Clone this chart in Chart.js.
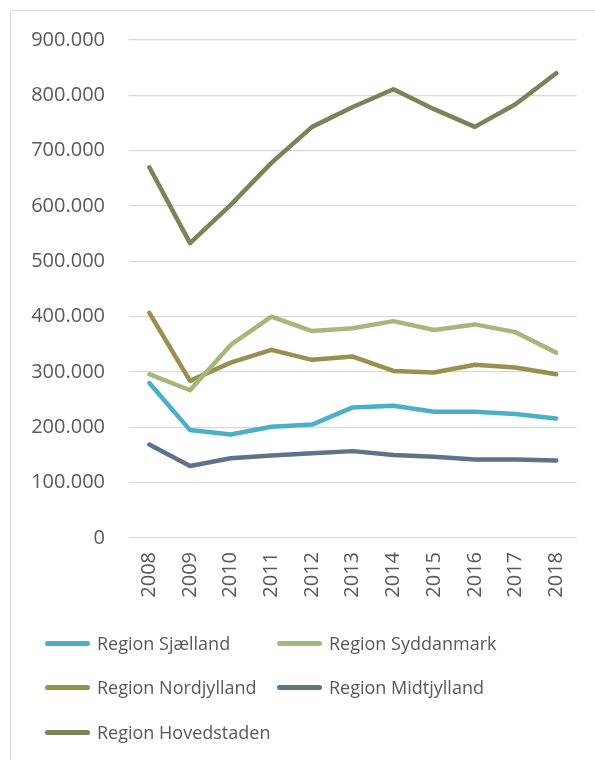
<!DOCTYPE html>
<html>
<head>
<meta charset="utf-8">
<script src="https://cdn.jsdelivr.net/npm/chart.js@4/dist/chart.umd.min.js"></script>
<style>
    body { margin: 0; background: #ffffff; font-family: "Open Sans", sans-serif; }
    #frame {
        position: absolute; left: 10px; top: 10px; width: 700px; height: 800px;
        border: 1px solid #d9d9d9; border-radius: 3px; box-sizing: border-box;
    }
    #chartBox { position: absolute; left: 0; top: 0; width: 595px; height: 610px; }
    #legend { position: absolute; left: 0; top: 0; width: 595px; height: 760px; pointer-events: none; }
    .item { position: absolute; height: 30px; display: flex; align-items: center;
            font-size: 18px; color: #595959; white-space: nowrap; }
    .swatch { display: inline-block; width: 45px; height: 5px; border-radius: 3px; margin-right: 7px; }
</style>
</head>
<body>
<div id="frame"></div>
<div id="chartBox"><canvas id="chart"></canvas></div>
<div id="legend"></div>
<script>
// Datos
const years = ['2008', '2009', '2010', '2011', '2012', '2013', '2014', '2015', '2016', '2017', '2018'];
const sjaelland    = [280000, 195000, 187000, 201000, 205000, 236000, 239000, 228000, 228000, 224000, 216000];
const syddanmark   = [296000, 267000, 349000, 400000, 374000, 379000, 392000, 376000, 386000, 372000, 335000];
const nordjylland  = [407000, 284000, 317000, 340000, 322000, 328000, 302000, 299000, 313000, 308000, 296000];
const midtjylland  = [169000, 130000, 144000, 149000, 153000, 157000, 150000, 147000, 142000, 142000, 140000];
const hovedstaden  = [670000, 533000, 602000, 678000, 743000, 779000, 811000, 775000, 743000, 784000, 840000];
const seriesNames  = ['Region Sjælland', 'Region Syddanmark', 'Region Nordjylland', 'Region Midtjylland', 'Region Hovedstaden'];
const seriesColors = ['#4BAFC6', '#A5B87C', '#998F4F', '#60728A', '#77865A'];

const seriesData = [sjaelland, syddanmark, nordjylland, midtjylland, hovedstaden];

function formatNumber(v) {
    return String(v).replace(/\B(?=(\d{3})+(?!\d))/g, '.');
}

const datasets = seriesData.map(function (values, i) {
    return {
        label: seriesNames[i],
        data: values,
        borderColor: seriesColors[i],
        backgroundColor: seriesColors[i],
        borderWidth: 4.5,
        borderCapStyle: 'round',
        borderJoinStyle: 'round',
        pointRadius: 0,
        tension: 0
    };
});

const tickFont = { family: '"Open Sans", sans-serif', size: 20 };

const chart = new Chart(document.getElementById('chart'), {
    type: 'line',
    data: { labels: years, datasets: datasets },
    options: {
        responsive: true,
        maintainAspectRatio: false,
        animation: false,
        layout: { padding: { left: 0, right: 18, top: 40, bottom: 0 } },
        plugins: {
            legend: { display: false },
            tooltip: { enabled: false }
        },
        scales: {
            x: {
                offset: true,
                grid: { display: false, drawTicks: false },
                border: { display: false },
                ticks: { minRotation: 90, maxRotation: 90, padding: 14, color: '#595959', font: tickFont },
                afterFit: function (scale) { scale.height = 72; }
            },
            y: {
                min: 0,
                max: 900000,
                grid: { color: '#d9d9d9', lineWidth: 1.3, drawTicks: false },
                border: { display: false },
                ticks: {
                    stepSize: 100000,
                    padding: 24,
                    color: '#595959',
                    font: tickFont,
                    callback: function (v) { return formatNumber(v); }
                },
                afterFit: function (scale) { scale.width = 129; }
            }
        }
    }
});

// Leyenda en dos columnas
const legendBox = document.getElementById('legend');
const legendPos = [[45, 628], [277, 628], [45, 672], [277, 672], [45, 717]];
chart.data.datasets.forEach(function (ds, i) {
    const item = document.createElement('div');
    item.className = 'item';
    item.style.left = legendPos[i][0] + 'px';
    item.style.top = legendPos[i][1] + 'px';
    item.innerHTML = '<span class="swatch" style="background:' + ds.borderColor + '"></span>' + ds.label;
    legendBox.appendChild(item);
});
</script>
</body>
</html>
